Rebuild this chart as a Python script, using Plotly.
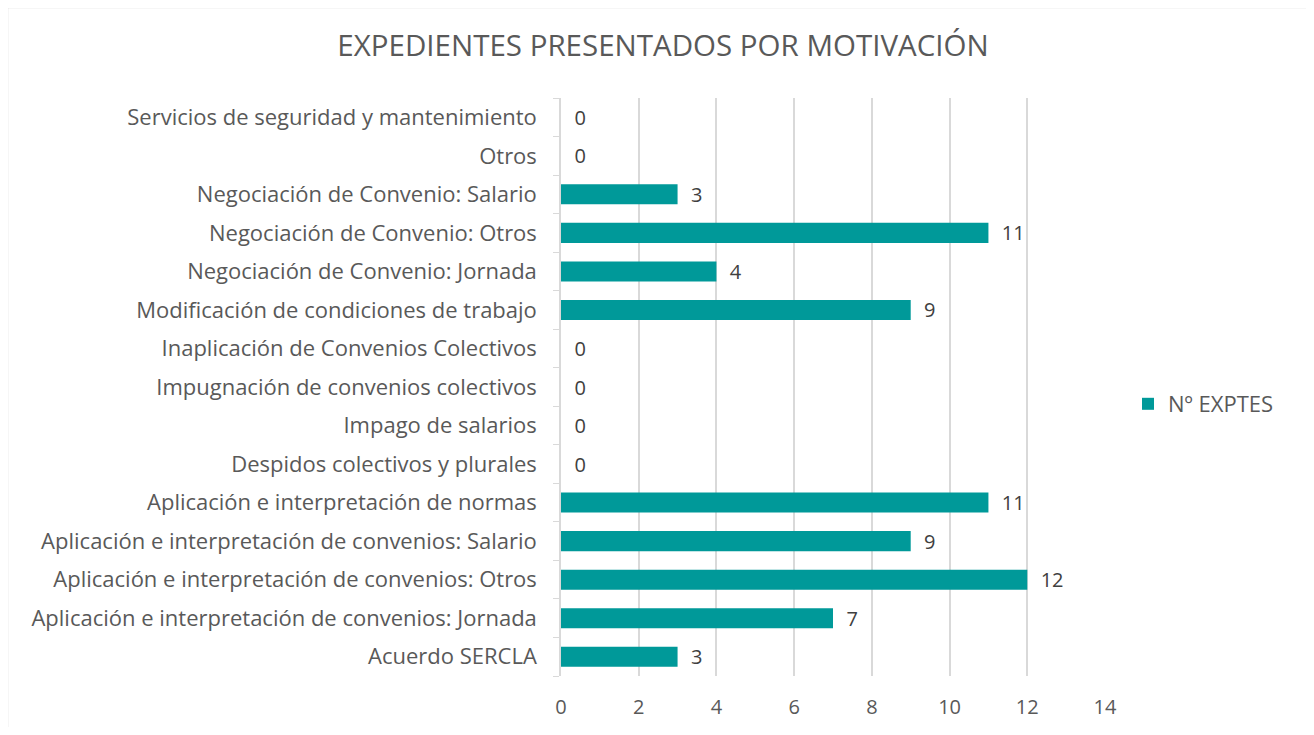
import plotly.graph_objects as go

categories = [
    "Acuerdo SERCLA",
    "Aplicación e interpretación de convenios: Jornada",
    "Aplicación e interpretación de convenios: Otros",
    "Aplicación e interpretación de convenios: Salario",
    "Aplicación e interpretación de normas",
    "Despidos colectivos y plurales",
    "Impago de salarios",
    "Impugnación de convenios colectivos",
    "Inaplicación de Convenios Colectivos",
    "Modificación de condiciones de trabajo",
    "Negociación de Convenio: Jornada",
    "Negociación de Convenio: Otros",
    "Negociación de Convenio: Salario",
    "Otros",
    "Servicios de seguridad y mantenimiento",
]
values = [3, 7, 12, 9, 11, 0, 0, 0, 0, 9, 4, 11, 3, 0, 0]
series_name = "Nº EXPTES"
title_text = "EXPEDIENTES PRESENTADOS POR MOTIVACIÓN"
x_ticks = [0, 2, 4, 6, 8, 10, 12, 14]

OFF = 8  # browser body margin
W, H = 1314 - 2 * OFF, 735 - 2 * OFF
# plot area in reference (screen) pixels
SX0, SX1, SY0, SY1 = 561, 1105, 98, 676
L, T = SX0 - OFF, SY0 - OFF
R, B = W - (SX1 - OFF), H - (SY1 - OFF)
pw, ph = W - L - R, H - T - B

FONT = "Open Sans"
fig = go.Figure()
fig.add_trace(go.Bar(
    y=categories, x=values, orientation="h", name=series_name,
    marker=dict(color="#009999", line=dict(width=0)),
    text=values, texttemplate="  %{text}", textposition="outside",
    constraintext="none",
    textfont=dict(family=FONT, size=20, color="#404040"),
    cliponaxis=False, showlegend=True,
))

def px_x(p):  # screen px -> paper
    return (p - SX0) / pw

def px_y(p):
    return (SY1 - p) / ph

fig.add_shape(type="rect", xref="paper", yref="paper",
              x0=px_x(7.5), x1=px_x(1340), y0=px_y(7.5), y1=px_y(760),
              line=dict(color="#d9d9d9", width=1.5), fillcolor="rgba(0,0,0,0)", layer="below")

fig.update_layout(
    width=W, height=H,
    margin=dict(l=L, r=R, t=T, b=B, autoexpand=False),
    paper_bgcolor="white", plot_bgcolor="white",
    bargap=0.48,
    title=dict(text=title_text, x=(663 - OFF) / W, xanchor="center", y=1 - (46 - OFF) / H, yanchor="middle",
               font=dict(family=FONT, size=29.5, color="#595959")),
    font=dict(family=FONT, color="#595959"),
    xaxis=dict(range=[0, 14], tickvals=x_ticks, showgrid=True, gridcolor="#d9d9d9", gridwidth=1.5,
               zeroline=False, showline=False, ticks="", automargin=False, ticklabelstandoff=17,
               tickfont=dict(family=FONT, size=20, color="#595959")),
    yaxis=dict(categoryorder="array", categoryarray=categories, showline=True, linecolor="#d9d9d9",
               linewidth=1.5, ticks="outside", tickson="boundaries", ticklen=6, tickcolor="#d9d9d9",
               showgrid=False, automargin=False, ticklabelstandoff=18,
               tickfont=dict(family=FONT, size=22, color="#595959")),
    legend=dict(x=px_x(1128), xanchor="left", y=px_y(404), yanchor="middle",
                font=dict(family=FONT, size=22, color="#595959"), bgcolor="rgba(0,0,0,0)",
                itemwidth=30),
)
fig.write_html("out.html")
